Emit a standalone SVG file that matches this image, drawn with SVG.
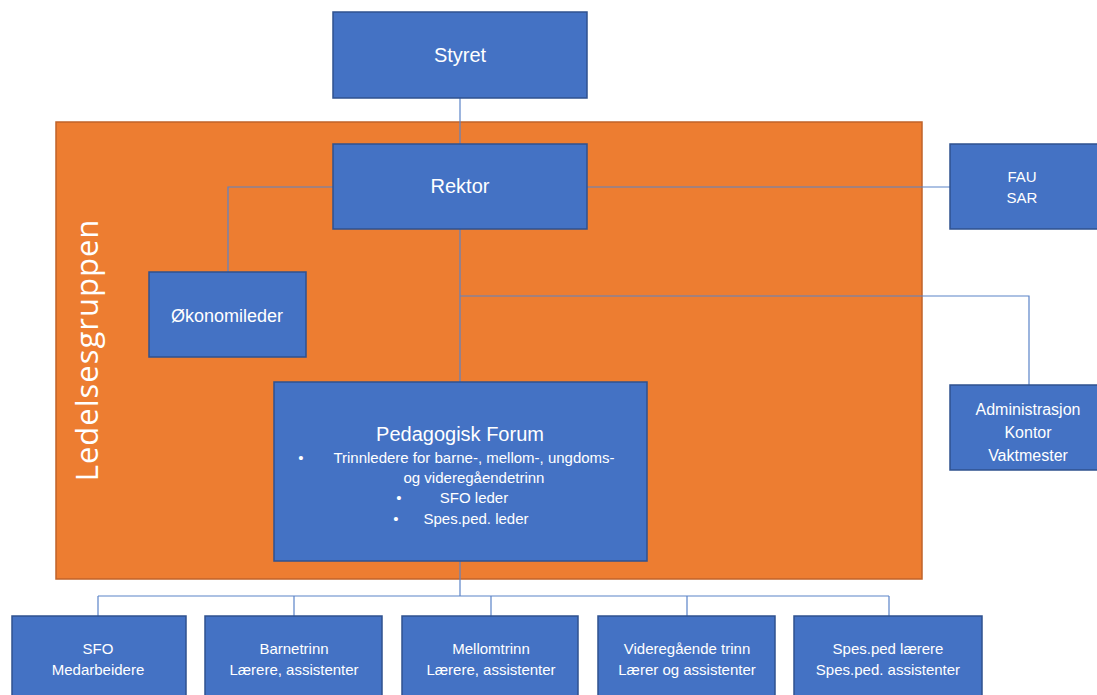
<svg xmlns="http://www.w3.org/2000/svg" width="1097" height="695" viewBox="0 0 1097 695">
<style>
.box{fill:#4472C4;stroke:#2F528F;stroke-width:1.5}
.t{fill:#fff;font-family:"Liberation Sans",Arial,sans-serif;text-anchor:middle}
.c{fill:none;stroke:#5B84C8;stroke-width:1.2}
</style>
<rect width="1097" height="695" fill="#fff"/>
<g id="ledelsesgruppen">
<rect x="56" y="122" width="866" height="457" fill="#ED7D31" stroke="#C0632A" stroke-width="1.5"/>
<text transform="translate(98,350) rotate(-90)" fill="#fff" font-family="'Open Sans',sans-serif" font-size="31" text-anchor="middle" letter-spacing="1">Ledelsesgruppen</text>
</g>
<g id="connectors">
<path class="c" d="M460 98V144"/>
<path class="c" d="M333 187H228V272"/>
<path class="c" d="M587 187H950"/>
<path class="c" d="M460 229V382"/>
<path class="c" d="M460 296H1029V385"/>
<path class="c" d="M460 561V596"/>
<path class="c" d="M98 596H889"/>
<path class="c" d="M98 596V616M294 596V616M491 596V616M687 596V616M889 596V616"/>
</g>
<g id="styret"><rect class="box" x="333" y="12" width="254" height="86"/><text class="t" x="460" y="62" font-size="20">Styret</text></g>
<g id="rektor"><rect class="box" x="333" y="144" width="254" height="85"/><text class="t" x="460" y="193" font-size="20">Rektor</text></g>
<g id="fau"><rect class="box" x="950" y="144" width="150" height="85"/><text class="t" x="1022" y="182" font-size="15">FAU</text><text class="t" x="1022" y="203" font-size="15">SAR</text></g>
<g id="okonomileder"><rect class="box" x="149" y="272" width="157" height="85"/><text class="t" x="227" y="322" font-size="18">Økonomileder</text></g>
<g id="pedagogisk-forum"><rect class="box" x="274" y="382" width="373" height="179"/>
<text class="t" x="460" y="441" font-size="20">Pedagogisk Forum</text>
<text class="t" font-size="15"><tspan x="301" y="463">•</tspan><tspan x="474" y="463">Trinnledere for barne-, mellom-, ungdoms-</tspan><tspan x="474" y="483">og videregåendetrinn</tspan><tspan x="399" y="503">•</tspan><tspan x="474" y="503">SFO leder</tspan><tspan x="396" y="524">•</tspan><tspan x="476" y="524">Spes.ped. leder</tspan></text>
</g>
<g id="administrasjon"><rect class="box" x="950" y="385" width="150" height="85"/><text class="t" x="1028" y="415" font-size="16">Administrasjon</text><text class="t" x="1028" y="438" font-size="16">Kontor</text><text class="t" x="1028" y="461" font-size="16">Vaktmester</text></g>
<g id="sfo"><rect class="box" x="12" y="616" width="174" height="90"/><text class="t" x="98" y="654" font-size="15">SFO</text><text class="t" x="98" y="675" font-size="15">Medarbeidere</text></g>
<g id="barnetrinn"><rect class="box" x="205" y="616" width="177" height="90"/><text class="t" x="294" y="654" font-size="15">Barnetrinn</text><text class="t" x="294" y="675" font-size="15">Lærere, assistenter</text></g>
<g id="mellomtrinn"><rect class="box" x="402" y="616" width="176" height="90"/><text class="t" x="491" y="654" font-size="15">Mellomtrinn</text><text class="t" x="491" y="675" font-size="15">Lærere, assistenter</text></g>
<g id="videregaende"><rect class="box" x="598" y="616" width="177" height="90"/><text class="t" x="687" y="654" font-size="15">Videregående trinn</text><text class="t" x="687" y="675" font-size="15">Lærer og assistenter</text></g>
<g id="spesped"><rect class="box" x="794" y="616" width="188" height="90"/><text class="t" x="888" y="654" font-size="15">Spes.ped lærere</text><text class="t" x="888" y="675" font-size="15">Spes.ped. assistenter</text></g>
</svg>
